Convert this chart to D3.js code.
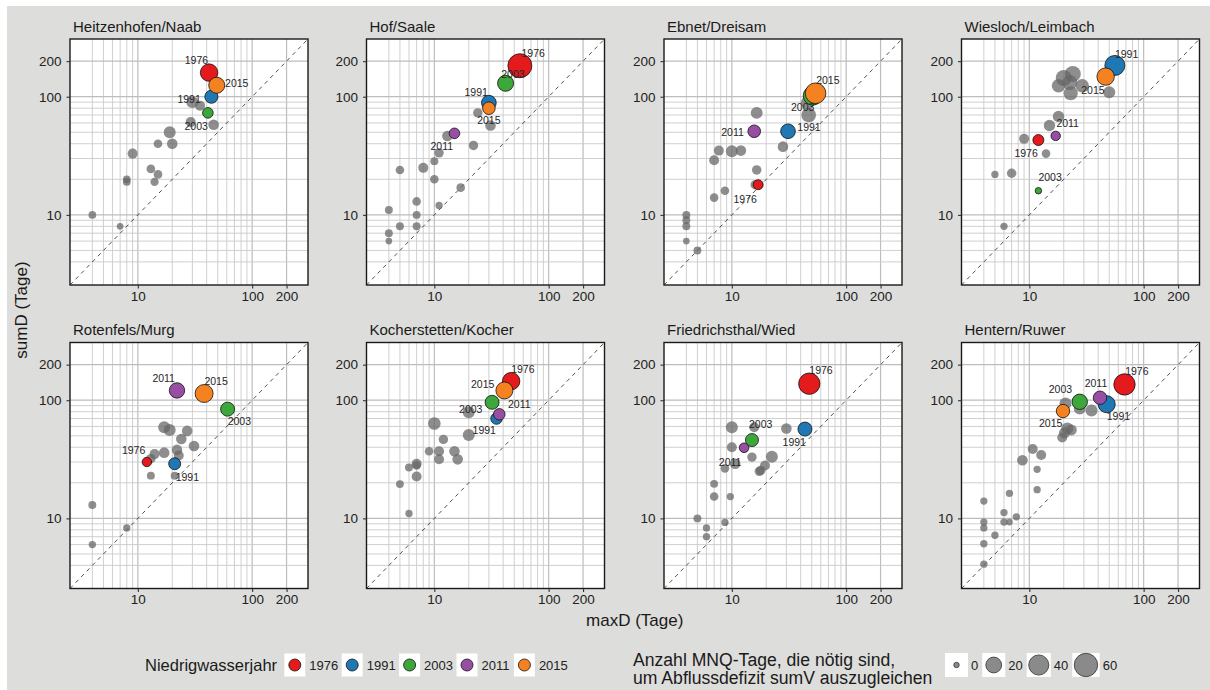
<!DOCTYPE html>
<html>
<head>
<meta charset="utf-8">
<script src="https://cdn.jsdelivr.net/npm/d3@7"></script>
<style>
  html, body { margin: 0; padding: 0; background: #fff; }
  svg { display: block; font-family: "Liberation Sans", Arial, sans-serif; }
</style>
</head>
<body>
<svg id="chart" width="1210" height="690"></svg>
<script>
// ---- data -----------------------------------------------------------------
const stations = [
  "Heitzenhofen/Naab", "Hof/Saale", "Ebnet/Dreisam", "Wiesloch/Leimbach",
  "Rotenfels/Murg", "Kocherstetten/Kocher", "Friedrichsthal/Wied", "Hentern/Ruwer"
];
const years = [1976, 1991, 2003, 2011, 2015];
const yearColors = ["#e41a1c", "#1f78b4", "#3ca83c", "#984ea3", "#f58220"];

// other years per station: maxD, sumD (days) and MNQ days needed
const otherMaxD = [
  [4, 7, 8, 8, 9, 13, 15, 14, 15, 19, 20, 29, 30, 35, 46],
  [4, 4, 4, 5, 5, 7, 7, 7, 8, 10, 10, 11, 11, 13, 17, 22, 24, 31],
  [4, 4, 4, 4, 5, 7, 7, 7.7, 8.7, 10, 12, 16.5, 16.5, 16, 28, 46, 47],
  [5, 6, 7, 9, 14, 15, 18, 20, 18, 24, 22.6, 23, 29, 50],
  [4, 4, 8, 13, 14, 13, 17, 17, 19, 21, 22, 22.8, 24, 27, 31],
  [5, 6, 6, 7, 7, 7, 9, 10, 11, 11, 12, 15, 16, 20, 20],
  [5, 6, 6, 7, 7, 8.7, 8.7, 10, 10, 9.7, 10.7, 15, 15.7, 17.4, 17.9, 19.5, 22.4, 30],
  [4, 4, 4, 4, 4, 5, 6, 6, 6.7, 6.7, 7.7, 8.7, 10.7, 12.7, 11.7, 11.7, 19.4, 20.3, 21.5, 23.3, 20.7, 27.6, 35]
];
const otherSumD = [
  [10, 8, 20, 19, 33, 24.5, 22, 19, 40, 50, 40, 61, 90, 84, 58],
  [11, 7, 6, 8, 24, 13, 10, 8, 25, 20, 28.5, 33.5, 12, 46.5, 17, 38.7, 73, 57],
  [10, 9, 8, 6, 5, 14, 29, 35, 16, 34.5, 35, 73, 24, 18, 37.8, 89, 70],
  [22, 8, 22.5, 44, 33, 57, 68, 144, 124, 156, 132, 107, 124, 109],
  [13, 6, 8.3, 23, 35, 32, 36, 59, 56, 23, 38, 34, 47, 55, 41],
  [19.5, 27, 11, 29, 22.6, 28, 37, 63.5, 37, 31.6, 46.6, 37, 31.6, 50.7, 79],
  [10, 8.3, 7, 19.6, 15.3, 9.25, 26.5, 59, 40, 15.3, 29, 33, 59, 25, 25.5, 28, 33.3, 57.7],
  [14, 9.3, 8.3, 6.1, 4.1, 7.2, 11.2, 9.3, 9.3, 16.3, 10.3, 31, 38.7, 34.4, 26, 17.5, 48.4, 53, 57.7, 56, 94, 85, 82]
];
const otherMNQ = [
  [1, 0.3, 1, 1, 4, 2, 2, 1.5, 2, 8, 5, 4, 8, 4, 5],
  [1.2, 1.2, 0.3, 1.2, 1.9, 1.9, 1.2, 1.2, 3.9, 1.9, 1.2, 3, 0.7, 5, 1.9, 3, 3, 5],
  [1.2, 1.2, 1.2, 0.3, 1.2, 1.9, 3.9, 3.9, 1.9, 8, 5, 8, 3, 3, 5, 12, 16],
  [0.7, 0.7, 3, 3.9, 1.9, 6.7, 6.7, 20.8, 12, 20.8, 17, 14, 12, 8],
  [1.2, 0.7, 0.7, 1.2, 3.9, 3, 5, 8, 8, 1.2, 5, 3.9, 5, 5, 5],
  [1.2, 1.2, 0.7, 3.9, 3.9, 1.9, 1.9, 9.6, 3.9, 3.9, 3, 5, 5, 8, 8],
  [1.2, 0.7, 0.7, 1.2, 1.9, 0.7, 1.9, 8, 3.9, 0.7, 5, 3, 3.9, 3, 3, 3.9, 8, 5],
  [0.7, 0.7, 0.7, 0.7, 0.7, 0.7, 0.7, 0.7, 0.3, 0.7, 0.7, 5, 3.9, 3.9, 0.7, 0.7, 3.9, 5.8, 8, 5.8, 8, 8, 8]
];

// low-flow years (order of `years`), null where the year is not shown
const yearMaxD = [
  [42, 44, 41, null, 49],
  [56, 30, 42, 15, 30],
  [17, 31, 51, 15.7, 54],
  [12, 56, 12, 17, 46.5],
  [12, 21, 61, 22, 38],
  [47, 35, 32, 37, 41],
  [47.6, 43.6, 15, 12.8, null],
  [68, 47.5, 27.6, 41.5, 19.7]
];
const yearSumD = [
  [160, 100, 73, null, 125],
  [183, 89, 130, 49, 80],
  [18, 51, 102, 51, 107],
  [43, 184, 16, 46.6, 148],
  [30, 29, 84, 121, 114],
  [145, 70, 96, 76, 121],
  [138, 57, 46, 39.6, null],
  [136, 92.5, 97, 105, 81]
];
const yearMNQ = [
  [27, 11, 5, null, 21],
  [64, 16, 21, 5, 9.6],
  [3.9, 16, 34, 9.6, 43],
  [5.8, 39.5, 0.2, 3, 26.7],
  [3, 8, 13.7, 18.5, 29.4],
  [26.7, 7, 13.7, 7, 24.9],
  [47, 13.7, 10.7, 3.3, null],
  [47, 25, 18.5, 11.9, 11.9]
];

const axisBreaks = [10, 100, 200];
const gridBreaks = [4, 5, 6, 7, 8, 9, 10, 20, 30, 40, 50, 60, 70, 80, 90, 100, 200];
const sizeBreaks = [0, 20, 40, 60];

// ---- layout ---------------------------------------------------------------
const W = 1210, H = 690;
const colX = [70, 366.5, 664, 961.5];
const rowY = [39, 342.5];
const PW = 238, PH = 246;
const DOMAIN = [2.55, 308];

// year-label placement (px from point centre), per station in `years` order
const labelOffsets = [
  [[-12.7, -12.3], [-22.3, 2.3], [-11.7, 13.3], null, [20, -2.7]],
  [[13.3, -12.3], [-12.7, -11], [7.3, -9.3], [-12.7, 12.7], [0, 12.3]],
  [[-13, 14], [21, -4.3], [-10, 11.7], [-21.7, 0.7], [12.3, -13.3]],
  [[-12.3, 12.7], [11.7, -11], [11.7, -13.3], [12, -13.3], [-12.7, 13.3]],
  [[-13.3, -11.7], [12.7, 13.3], [11.7, 12], [-13.3, -12.7], [12, -12.3]],
  [[11.7, -11.7], [-12.3, 11.7], [-21.3, 6.7], [20, -10.7], [-21.7, -6]],
  [[11.7, -13.3], [-10.7, 12.7], [8.7, -15.7], [-14, 14], null],
  [[12.3, -13], [11.7, 12], [-19.3, -12.7], [-4, -15], [-12.3, 12.3]]
];

const svg = d3.select("#chart");
svg.append("rect").attr("width", W).attr("height", H).attr("fill", "#fff");
svg.append("rect").attr("x", 7).attr("y", 6).attr("width", W - 7).attr("height", H - 6)
  .attr("fill", "#dddddb");

const x = d3.scaleLog().domain(DOMAIN).range([0, PW]);
const y = d3.scaleLog().domain(DOMAIN).range([PH, 0]);
const r = d3.scaleSqrt().domain([0, 60]).range([2.7, 11.7]);

const isMajor = d => axisBreaks.includes(d);

stations.forEach((name, i) => {
  const col = i % 4, row = Math.floor(i / 4);
  const g = svg.append("g").attr("transform", `translate(${colX[col]},${rowY[row]})`);

  g.append("rect").attr("width", PW).attr("height", PH).attr("fill", "#fff");

  // grid
  g.append("g").selectAll("line").data(gridBreaks).join("line")
    .attr("x1", d => x(d)).attr("x2", d => x(d)).attr("y1", 0).attr("y2", PH)
    .attr("stroke", d => isMajor(d) ? "#bdbdbd" : "#cbcbcb")
    .attr("stroke-width", d => isMajor(d) ? 1.2 : 0.9);
  g.append("g").selectAll("line").data(gridBreaks).join("line")
    .attr("y1", d => y(d)).attr("y2", d => y(d)).attr("x1", 0).attr("x2", PW)
    .attr("stroke", d => isMajor(d) ? "#bdbdbd" : "#cbcbcb")
    .attr("stroke-width", d => isMajor(d) ? 1.2 : 0.9);

  // 1:1 line
  g.append("line")
    .attr("x1", x(DOMAIN[0])).attr("y1", y(DOMAIN[0]))
    .attr("x2", x(DOMAIN[1])).attr("y2", y(DOMAIN[1]))
    .attr("stroke", "#333").attr("stroke-width", 0.85)
    .attr("stroke-dasharray", "4,4");

  // all other years
  const others = otherMaxD[i].map((d, j) => ({ maxD: d, sumD: otherSumD[i][j], mnq: otherMNQ[i][j] }));
  g.append("g").selectAll("circle").data(others).join("circle")
    .attr("cx", d => x(d.maxD)).attr("cy", d => y(d.sumD)).attr("r", d => r(d.mnq))
    .attr("fill", "#666").attr("fill-opacity", 0.74);

  // highlighted low-flow years
  const hl = years.map((yr, k) => ({
    year: yr, color: yearColors[k], maxD: yearMaxD[i][k], sumD: yearSumD[i][k],
    mnq: yearMNQ[i][k], off: labelOffsets[i][k]
  })).filter(d => d.maxD != null);

  g.append("g").selectAll("circle").data(hl).join("circle")
    .attr("cx", d => x(d.maxD)).attr("cy", d => y(d.sumD)).attr("r", d => r(d.mnq))
    .attr("fill", d => d.color).attr("stroke", "#111").attr("stroke-width", 0.8);

  g.append("g").selectAll("text").data(hl).join("text")
    .attr("x", d => x(d.maxD) + d.off[0]).attr("y", d => y(d.sumD) + d.off[1])
    .attr("text-anchor", "middle").attr("dominant-baseline", "central")
    .attr("font-size", 10.5).attr("fill", "#262626")
    .text(d => d.year);

  // frame
  g.append("rect").attr("width", PW).attr("height", PH)
    .attr("fill", "none").attr("stroke", "#1a1a1a").attr("stroke-width", 1.4);

  // axes
  const ax = g.append("g").attr("transform", `translate(0,${PH})`)
    .call(d3.axisBottom(x).tickValues(axisBreaks).tickFormat(d3.format("d"))
      .tickSize(3.5).tickPadding(2.5));
  const ay = g.append("g")
    .call(d3.axisLeft(y).tickValues(axisBreaks).tickFormat(d3.format("d"))
      .tickSize(3.5).tickPadding(5));
  [ax, ay].forEach(a => {
    a.select(".domain").remove();
    a.selectAll(".tick line").attr("stroke", "#333").attr("stroke-width", 1.1);
    a.selectAll(".tick text").attr("font-size", 13.5).attr("fill", "#222")
      .attr("font-family", "Liberation Sans, Arial, sans-serif");
  });

  g.append("text").attr("x", 3).attr("y", -7.5)
    .attr("font-size", 15).attr("fill", "#1a1a1a").text(name);
});

// axis titles
svg.append("text").attr("x", (colX[0] + colX[3] + PW) / 2).attr("y", 626)
  .attr("text-anchor", "middle").attr("font-size", 17).attr("fill", "#1a1a1a")
  .text("maxD (Tage)");
svg.append("text").attr("transform", "translate(21,310) rotate(-90)")
  .attr("text-anchor", "middle").attr("dominant-baseline", "central")
  .attr("font-size", 17).attr("fill", "#1a1a1a")
  .text("sumD (Tage)");

// legend: low-flow year
const legY = 665;
const leg1 = svg.append("g");
leg1.append("text").attr("x", 145).attr("y", legY).attr("dominant-baseline", "central")
  .attr("font-size", 16.5).attr("fill", "#1a1a1a").text("Niedrigwasserjahr");
years.forEach((yr, k) => {
  const kx = 284.3 + k * 57.4;
  leg1.append("rect").attr("x", kx).attr("y", legY - 11.5).attr("width", 21).attr("height", 23)
    .attr("fill", "#fff");
  leg1.append("circle").attr("cx", kx + 10.5).attr("cy", legY).attr("r", 6)
    .attr("fill", yearColors[k]).attr("stroke", "#111").attr("stroke-width", 0.8);
  leg1.append("text").attr("x", kx + 25).attr("y", legY).attr("dominant-baseline", "central")
    .attr("font-size", 13).attr("fill", "#222").text(yr);
});

// legend: MNQ days
const leg2 = svg.append("g");
leg2.append("text").attr("x", 633).attr("y", 660).attr("dominant-baseline", "central")
  .attr("font-size", 17.6).attr("fill", "#1a1a1a").text("Anzahl MNQ-Tage, die nötig sind,");
leg2.append("text").attr("x", 633).attr("y", 678).attr("dominant-baseline", "central")
  .attr("font-size", 17.6).attr("fill", "#1a1a1a").text("um Abflussdefizit sumV auszugleichen");
let sx = 945;
sizeBreaks.forEach(v => {
  const rr = r(v);
  const bw = Math.max(23, 2 * rr + 4);
  leg2.append("rect").attr("x", sx).attr("y", legY - 12).attr("width", bw).attr("height", 24)
    .attr("fill", "#fff");
  leg2.append("circle").attr("cx", sx + bw / 2).attr("cy", legY).attr("r", rr)
    .attr("fill", "#8a8a8a").attr("stroke", "#333").attr("stroke-width", 0.8);
  const t = leg2.append("text").attr("x", sx + bw + 3).attr("y", legY)
    .attr("dominant-baseline", "central").attr("font-size", 13).attr("fill", "#222").text(v);
  sx += bw + 3 + t.node().getComputedTextLength() + 4;
});
</script>
</body>
</html>
